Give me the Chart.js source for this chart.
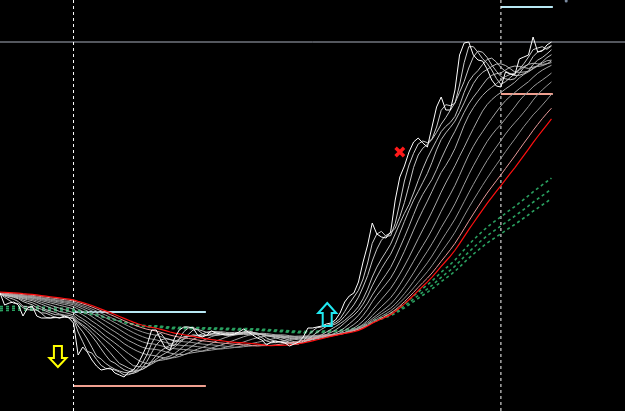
<!DOCTYPE html>
<html>
<head>
<meta charset="utf-8">
<script src="https://cdn.jsdelivr.net/npm/chart.js@4.4.1/dist/chart.umd.min.js"></script>
<style>
  html, body { margin: 0; padding: 0; background: #000; }
  #wrap { width: 625px; height: 411px; position: relative; }
  canvas { display: block; }
</style>
</head>
<body>
<div id="wrap"><canvas id="c" width="625" height="411"></canvas></div>
<script>
// ---- data (value = price level, higher is up) ----
const price = [118,106,108,109,106,95,103,105,95,93,93,93,94,93,95,93,88,56,64,59,
  51,45,41,42,43,38,36,34,39,41,47,56,66,81,81,71,63,61,73,81,
  84,84,83,76,74,76,80,78,77,76,76,77,79,82,79,76,73,71,66,69,
  70,69,68,65,67,69,74,83,83,84,85,87,88,91,98,109,115,118,129,149,
  166,188,177,174,173,179,211,234,245,259,269,273,268,264,284,304,314,301,301,321,
  356,368,369,356,351,350,342,331,325,324,339,337,336,352,354,356,374,359,360,366,369];
// moving-average periods and the level each line shows at the first bar
const ribbonPeriods = [3,5,8,10,13,16,20,24,28,32,36];
const ribbonSeed = 117;
const pinkPeriod = 40, pinkSeed = 118;
const redPeriod = 43, redSeed = 119;
const slowPeriods = [80, 90, 100];
const slowSeeds = [104, 102, 100];
const dividerBars = [16, 109];
const resistanceLevels = [99, 404];      // cyan segments
const supportLevels = [25, 317];         // salmon segments
const segmentStarts = [16, 109];
const segmentEnds = [44.8, 120.3];
const ceilingLevel = 369;                // grey horizontal line
const downArrow = [12.6, 65];            // bar, top value
const upArrow = [71.2, 108];             // bar, tip value
const crossMark = [87, 259];
const tinyDot = [123.2, 410];

// simple moving average; bars before the first one count at the seed level
function sma(src, n, seed) {
  const out = [];
  for (let i = 0; i < src.length; i++) {
    let s = 0;
    for (let j = i - n + 1; j <= i; j++) s += j < 0 ? seed : src[j];
    out.push(s / n);
  }
  return out;
}
// exponential moving average starting from the seed level
function ema(src, n, seed) {
  const a = 2 / (n + 1), out = [];
  let e = seed;
  for (let i = 0; i < src.length; i++) { e += a * (src[i] - e); out.push(e); }
  return out;
}
const toPts = arr => arr.map((v, i) => ({x: i, y: v}));

const datasets = [];
datasets.push({data: toPts(price), borderColor: '#ffffff', borderWidth: 1, order: 0});
datasets.push({data: toPts(sma(price, redPeriod, redSeed)), borderColor: '#ff1010', borderWidth: 1.2, order: 1});
datasets.push({data: toPts(sma(price, pinkPeriod, pinkSeed)), borderColor: '#e89a9a', borderWidth: 1, order: 2});
ribbonPeriods.forEach((p, k) => {
  const g = Math.round(205 - k * 6);
  datasets.push({data: toPts(sma(price, p, ribbonSeed)), borderColor: `rgb(${g},${g},${g})`, borderWidth: 1, order: 3});
});
slowPeriods.forEach((p, k) => {
  datasets.push({data: toPts(ema(price, p, slowSeeds[k])), borderColor: '#2aa060', borderWidth: 1.6,
    borderDash: [3, 3], order: 4});
});
datasets.push({data: [{x: 0, y: ceilingLevel}, {x: 136, y: ceilingLevel}], borderColor: '#a8aebc', borderWidth: 1, order: 6});
dividerBars.forEach(b => datasets.push({data: [{x: b, y: 0}, {x: b, y: 411}], borderColor: '#ffffff',
  borderWidth: 1, borderDash: [3, 3], order: 5}));
resistanceLevels.forEach((lv, k) => datasets.push({data: [{x: segmentStarts[k], y: lv}, {x: segmentEnds[k], y: lv}],
  borderColor: '#b8e8f4', borderWidth: 2, order: 5}));
supportLevels.forEach((lv, k) => datasets.push({data: [{x: segmentStarts[k], y: lv}, {x: segmentEnds[k], y: lv}],
  borderColor: '#f0a090', borderWidth: 2, order: 5}));
datasets.push({type: 'scatter', data: [{x: crossMark[0], y: crossMark[1]}], pointStyle: 'crossRot', pointRadius: 6,
  borderColor: '#ff1a1a', borderWidth: 3.5, order: 0});
datasets.push({type: 'scatter', data: [{x: tinyDot[0], y: tinyDot[1]}], pointStyle: 'circle', pointRadius: 1.5,
  backgroundColor: '#7a8aa0', borderWidth: 0, order: 0});

const arrowPlugin = {
  id: 'arrows',
  beforeDraw(chart) {
    const c = chart.ctx;
    c.save(); c.fillStyle = '#000'; c.fillRect(0, 0, chart.width, chart.height); c.restore();
  },
  afterDatasetsDraw(chart) {
    const c = chart.ctx, xs = chart.scales.x, ys = chart.scales.y;
    c.save();
    c.lineWidth = 2;
    let cx = xs.getPixelForValue(downArrow[0]), top = ys.getPixelForValue(downArrow[1]);
    c.strokeStyle = '#ffff00';
    c.beginPath();
    c.moveTo(cx - 4, top); c.lineTo(cx + 4, top); c.lineTo(cx + 4, top + 12);
    c.lineTo(cx + 8.5, top + 12); c.lineTo(cx, top + 21); c.lineTo(cx - 8.5, top + 12);
    c.lineTo(cx - 4, top + 12); c.closePath(); c.stroke();
    cx = xs.getPixelForValue(upArrow[0]); let tip = ys.getPixelForValue(upArrow[1]);
    c.strokeStyle = '#20e8f0';
    c.beginPath();
    c.moveTo(cx, tip); c.lineTo(cx + 9, tip + 10); c.lineTo(cx + 4.5, tip + 10); c.lineTo(cx + 4.5, tip + 23);
    c.lineTo(cx - 4.5, tip + 23); c.lineTo(cx - 4.5, tip + 10); c.lineTo(cx - 9, tip + 10); c.closePath(); c.stroke();
    c.restore();
  }
};

new Chart(document.getElementById('c'), {
  type: 'line',
  data: {datasets},
  options: {
    responsive: false,
    animation: false,
    events: [],
    layout: {padding: 0, autoPadding: false},
    elements: {point: {radius: 0}, line: {tension: 0}},
    plugins: {legend: {display: false}, tooltip: {enabled: false}},
    scales: {
      x: {type: 'linear', min: 0, max: 136, display: false},
      y: {type: 'linear', min: 0, max: 411, display: false}
    }
  },
  plugins: [arrowPlugin]
});
</script>
</body>
</html>
